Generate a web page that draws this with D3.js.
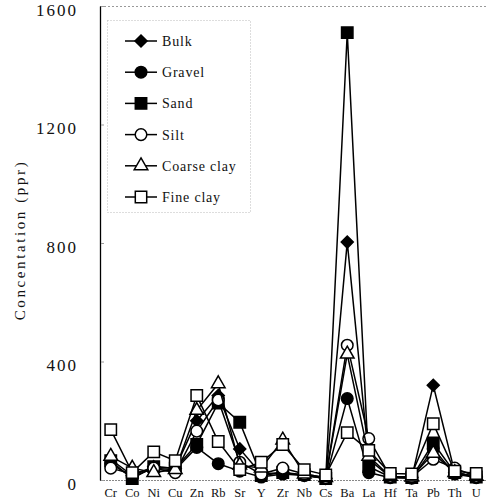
<!DOCTYPE html>
<html><head><meta charset="utf-8">
<script src="https://cdn.jsdelivr.net/npm/d3@7"></script>
<style>body{margin:0;background:#fff}svg{display:block}</style>
</head><body>
<script>
const categories = ["Cr","Co","Ni","Cu","Zn","Rb","Sr","Y","Zr","Nb","Cs","Ba","La","Hf","Ta","Pb","Th","U"];
const bulk       = [70,15,45,40,200,285,105,20,25,15,5,803,70,10,8,320,25,10];
const gravel     = [55,10,40,35,110,55,30,10,20,15,5,275,25,8,6,105,20,8];
const sand       = [65,5,45,40,120,260,195,15,25,18,5,1510,45,10,8,125,25,10];
const silt       = [40,20,40,25,165,270,60,20,40,20,8,455,140,12,10,70,40,12];
const coarseClay = [80,40,25,35,235,325,50,40,135,20,8,425,80,12,10,90,25,12];
const fineClay   = [170,25,95,65,285,130,35,60,120,35,17,160,100,22,20,190,30,22];
const seriesNames = ["Bulk","Gravel","Sand","Silt","Coarse clay","Fine clay"];
const seriesValues = [bulk,gravel,sand,silt,coarseClay,fineClay];
const seriesSymbols = ["diamond","circle","square","circle","triangle","square"];
const seriesFilled = [true,true,true,false,false,false];
const yTicks = [0,400,800,1200,1600];

const W=486,H=501;
const m={left:100,top:6,right:487,bottom:480};
const svg=d3.select("body").append("svg").attr("width",W).attr("height",H);
const x=d3.scaleBand().domain(categories).range([m.left,m.right]);
const y=d3.scaleLinear().domain([0,1600]).range([m.bottom,m.top]);
const cx=c=>x(c)+x.bandwidth()/2;

// frame (dotted top & bottom)
svg.append("line").attr("x1",m.left).attr("x2",m.right).attr("y1",m.top+0.5).attr("y2",m.top+0.5)
  .attr("stroke","#999").attr("stroke-dasharray","2,2");
svg.append("line").attr("x1",m.left).attr("x2",m.right).attr("y1",m.bottom+0.5).attr("y2",m.bottom+0.5)
  .attr("stroke","#888").attr("stroke-dasharray","2,1");

// y axis
const yAxis=d3.axisLeft(y).tickValues(yTicks).tickFormat(d3.format("d")).tickSize(0).tickPadding(22);
const ya=svg.append("g").attr("transform",`translate(${m.left},0)`).call(yAxis);
ya.select(".domain").attr("stroke","#000").attr("stroke-width",1.3);
ya.selectAll("text").attr("font-family","Liberation Serif").attr("font-size",17)
  .attr("letter-spacing",2).attr("fill","#111").attr("dy","0.55em");
ya.selectAll(".tick").append("line").attr("x1",1).attr("x2",4).attr("stroke","#999");

// x axis labels
const xAxis=d3.axisBottom(x).tickSize(0).tickPadding(8);
const xa=svg.append("g").attr("transform",`translate(0,${m.bottom})`).call(xAxis);
xa.select(".domain").remove();
xa.selectAll("text").attr("font-family","Liberation Serif").attr("font-size",12.5).attr("fill","#111");

// y label
svg.append("text").attr("transform","translate(25,240) rotate(-90)").attr("text-anchor","middle")
  .attr("font-family","Liberation Serif").attr("font-size",15).attr("letter-spacing",2.6)
  .attr("fill","#111").text("Concentation (ppr)");

const diamond={draw(ctx,size){const r=Math.sqrt(size/2);ctx.moveTo(0,-r);ctx.lineTo(r,0);ctx.lineTo(0,r);ctx.lineTo(-r,0);ctx.closePath();}};
const symType={diamond:diamond,circle:d3.symbolCircle,square:d3.symbolSquare,triangle:d3.symbolTriangle};
const symSize={diamond:72,circle:105,square:130,triangle:80};
function marker(g,i,px,py){
  const s=seriesSymbols[i];
  g.append("path").attr("d",d3.symbol().type(symType[s]).size(symSize[s])())
   .attr("transform",`translate(${px},${py})`)
   .attr("fill",seriesFilled[i]?"#000":"#fff").attr("stroke","#000").attr("stroke-width",1.5);
}
const line=d3.line().x((d,j)=>cx(categories[j])).y(d=>y(d));
seriesValues.forEach((vals,i)=>{
  const g=svg.append("g");
  g.append("path").attr("d",line(vals)).attr("fill","none").attr("stroke","#000").attr("stroke-width",1.5);
  vals.forEach((v,j)=>marker(g,i,cx(categories[j]),y(v)));
});

// legend
const lg=svg.append("g");
lg.append("rect").attr("x",107.5).attr("y",20.5).attr("width",143).attr("height",192)
  .attr("fill","#fff").attr("stroke","#bbb").attr("stroke-dasharray","1,2");
seriesNames.forEach((n,i)=>{
  const ly=41+i*31.2;
  lg.append("line").attr("x1",125).attr("x2",157).attr("y1",ly).attr("y2",ly).attr("stroke","#000").attr("stroke-width",1.5);
  marker(lg,i,141,ly);
  lg.append("text").attr("x",162).attr("y",ly+5).attr("font-family","Liberation Serif").attr("font-size",14)
    .attr("letter-spacing",0.8).attr("fill","#111").text(n);
});
</script>
</body></html>
